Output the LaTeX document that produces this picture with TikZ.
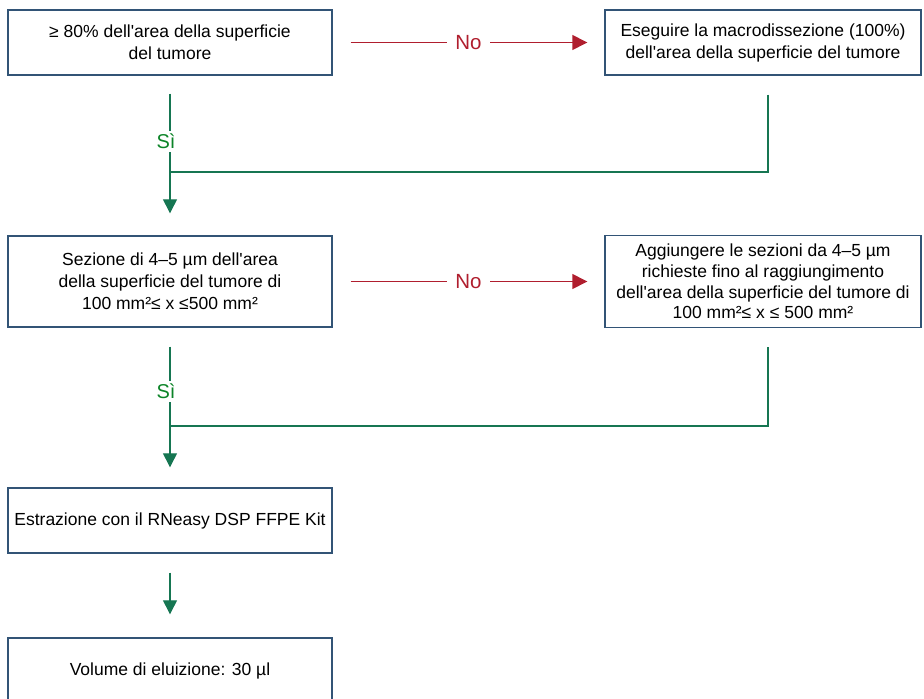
\documentclass[tikz,border=0pt]{standalone}
\usepackage{fontspec}
\setmainfont{Liberation Sans}[Ligatures=TeXOff]
\usetikzlibrary{arrows.meta}
\definecolor{boxblue}{RGB}{50,84,118}
\definecolor{noRed}{RGB}{176,30,46}
\definecolor{siGreen}{RGB}{22,118,82}
\definecolor{siText}{RGB}{12,132,40}

\begin{document}
\begin{tikzpicture}[x=1pt, y=1pt,
    box/.style={rectangle, draw=boxblue, line width=1.4pt, align=center, inner sep=0pt,
      font=\fontsize{17.5}{22}\selectfont},
    widebox/.style={box, minimum width=324pt},
    narrowbox/.style={box, minimum width=316pt},
    noline/.style={draw=noRed, line width=1.4pt, -{Triangle[length=15pt,width=15pt]}},
    yesline/.style={draw=siGreen, line width=1.3pt},
    yesarrow/.style={yesline, -{Triangle[length=14pt,width=14pt]}},
    nolabel/.style={fill=white, text=noRed, inner xsep=8pt, font=\fontsize{20.5}{22}\selectfont},
    silabel/.style={fill=white, text=siText, inner sep=3pt, font=\fontsize{20}{22}\selectfont}]
    \useasboundingbox (0,0) rectangle (924,-699);

    % Nodes
    \node (surface) [widebox, minimum height=65pt] at (170,-42.5) {≥ 80\% dell'area della superficie\\del tumore};
    \node (macro) [narrowbox, minimum height=65pt, right of=surface, node distance=593pt] {Eseguire la macrodissezione (100\%)\\dell'area della superficie del tumore};
    \node (sections) [widebox, minimum height=91pt, below of=surface, node distance=239pt] {Sezione di 4–5 µm dell'area\\della superficie del tumore di\\100 mm²≤ x ≤500 mm²};
    \node (addsec) [narrowbox, minimum height=92pt, right of=sections, node distance=593pt, font=\fontsize{17.5}{20.7}\selectfont] {Aggiungere le sezioni da 4–5 µm\\richieste fino al raggiungimento\\dell'area della superficie del tumore di\\100 mm²≤ x ≤ 500 mm²};
    \node (extract) [widebox, minimum height=65pt, below of=sections, node distance=239pt] {Estrazione con il RNeasy DSP FFPE Kit};
    \node (eluate) [widebox, minimum height=65pt, below of=extract, node distance=150pt] {Volume di eluizione: 30 µl};
    \coordinate (join1) at (170,-172);
    \coordinate (join2) at (170,-426);

    % Arrows
    \draw[noline, shorten <=18pt, shorten >=17pt] (surface.east) -- node[nolabel] {No} (surface.east -| macro.west);
    \draw[noline, shorten <=18pt, shorten >=17pt] (sections.east) -- node[nolabel] {No} (sections.east -| addsec.west);
    \draw[yesarrow, shorten <=18pt, shorten >=22pt] (surface.south) -- node[silabel, pos=0.41, xshift=-4pt] {Sì} (sections.north);
    \draw[yesline, shorten <=19pt] ([xshift=5pt]macro.south) |- (join1);
    \draw[yesarrow, shorten <=19pt, shorten >=20pt] (sections.south) -- node[silabel, pos=0.40, xshift=-4pt] {Sì} (extract.north);
    \draw[yesline, shorten <=19pt] ([xshift=5pt]addsec.south) |- (join2);
    \draw[yesarrow, shorten <=19pt, shorten >=23pt] (extract.south) -- (eluate.north);
  \end{tikzpicture}
\end{document}
